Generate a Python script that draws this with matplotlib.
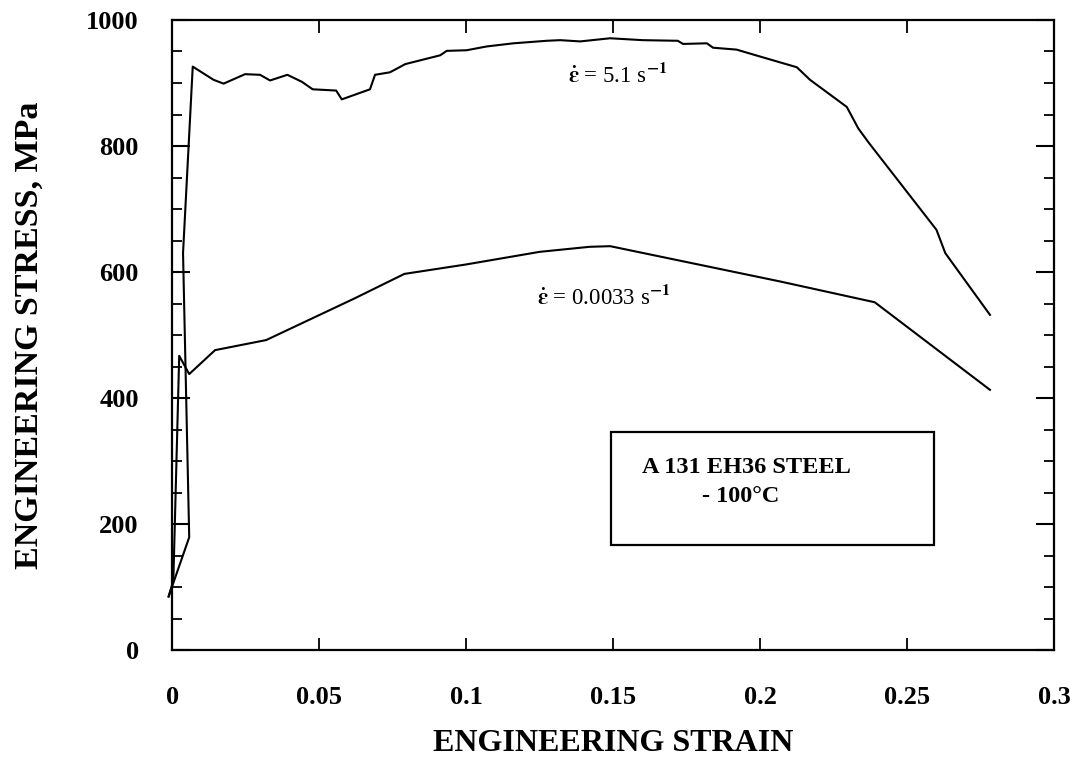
import matplotlib
matplotlib.use("Agg")
import matplotlib.pyplot as plt
from matplotlib.patches import Rectangle
from matplotlib.ticker import MultipleLocator

# strain rate 5.1 1/s
fast_strain = [-0.0012, 0.0058, 0.0037, 0.0070, 0.0141, 0.0175, 0.0248, 0.0299,
               0.0333, 0.0392, 0.0441, 0.0478, 0.0558, 0.0577, 0.0673, 0.0690,
               0.0741, 0.0793, 0.0844, 0.0912, 0.0934, 0.1002, 0.1070, 0.1161,
               0.1274, 0.1320, 0.1388, 0.1490, 0.1600, 0.1720, 0.1738, 0.1819,
               0.1840, 0.1920, 0.2000, 0.2125, 0.2170, 0.2295, 0.2334, 0.2370,
               0.2600, 0.2630, 0.2782]
fast_stress = [85, 179, 630, 926, 905, 899, 914, 913,
               904, 913, 902, 890, 888, 874, 890, 913,
               917, 930, 936, 944, 951, 952, 958, 963,
               967, 968, 966, 971, 968, 967, 962, 963,
               956, 953, 942, 925, 905, 862, 828, 805,
               667, 630, 532]

# strain rate 0.0033 1/s
slow_strain = [-0.0012, 0.0004, 0.0024, 0.0058, 0.0146, 0.0320, 0.0470, 0.0620,
               0.0790, 0.1000, 0.1250, 0.1420, 0.1490, 0.2068, 0.2390, 0.2782]
slow_stress = [85, 110, 467, 438, 476, 492, 525, 558,
               597, 612, 632, 640, 641, 585, 552, 413]

x_ticks = [0, 0.05, 0.1, 0.15, 0.2, 0.25, 0.3]
x_labels = ["0", "0.05", "0.1", "0.15", "0.2", "0.25", "0.3"]
y_ticks = [0, 200, 400, 600, 800, 1000]

plt.rcParams['font.family'] = ['Liberation Serif', 'DejaVu Serif']
plt.rcParams['font.weight'] = 'bold'
plt.rcParams['mathtext.fontset'] = 'stix'

fig = plt.figure(figsize=(10.76, 7.69), dpi=100)
ax = fig.add_axes([0.16, 0.1547, 0.8196, 0.8193])

ax.plot(fast_strain, fast_stress, color='black', lw=1.5, clip_on=False)
ax.plot(slow_strain, slow_stress, color='black', lw=1.5, clip_on=False)

ax.set_xlim(0, 0.3)
ax.set_ylim(0, 1000)
ax.set_xticks(x_ticks)
ax.set_xticklabels(x_labels)
ax.set_yticks(y_ticks)
ax.yaxis.set_minor_locator(MultipleLocator(50))

ax.tick_params(axis='x', which='major', direction='in', length=9, width=1.3,
               top=True, bottom=True, pad=26, labelsize=19)
ax.tick_params(axis='y', which='major', direction='in', length=13, width=1.5,
               left=True, right=True, pad=24, labelsize=19)
ax.tick_params(axis='y', which='minor', direction='in', length=7, width=1.3,
               left=True, right=True)
for lab in ax.get_xticklabels() + ax.get_yticklabels():
    lab.set_fontweight('bold')

for s in ax.spines.values():
    s.set_linewidth(1.6)

ax.set_xlabel("ENGINEERING STRAIN", fontsize=23, fontweight='bold', labelpad=14)
ax.set_ylabel("ENGINEERING STRESS, MPa", fontsize=24.5, fontweight='bold', labelpad=30)

ax.text(0.1345, 913, r"$\dot{\mathrm{\varepsilon}}$ = 5.1 s$^{\mathrm{-1}}$", fontsize=16.5,
        fontweight='normal', va='center', ha='left')
ax.text(0.124, 560, r"$\dot{\mathrm{\varepsilon}}$ = 0.0033 s$^{\mathrm{-1}}$", fontsize=16.5,
        fontweight='normal', va='center', ha='left')

box = Rectangle((0.498, 0.167), 0.366, 0.179, transform=ax.transAxes,
                fill=False, edgecolor='black', lw=1.6)
ax.add_patch(box)
ax.text(0.651, 0.290, "A 131 EH36 STEEL", transform=ax.transAxes,
        fontsize=17.5, fontweight='bold', ha='center', va='center')
ax.text(0.645, 0.243, "- 100°C", transform=ax.transAxes,
        fontsize=17.5, fontweight='bold', ha='center', va='center')

fig.savefig("out.png", dpi=100)
